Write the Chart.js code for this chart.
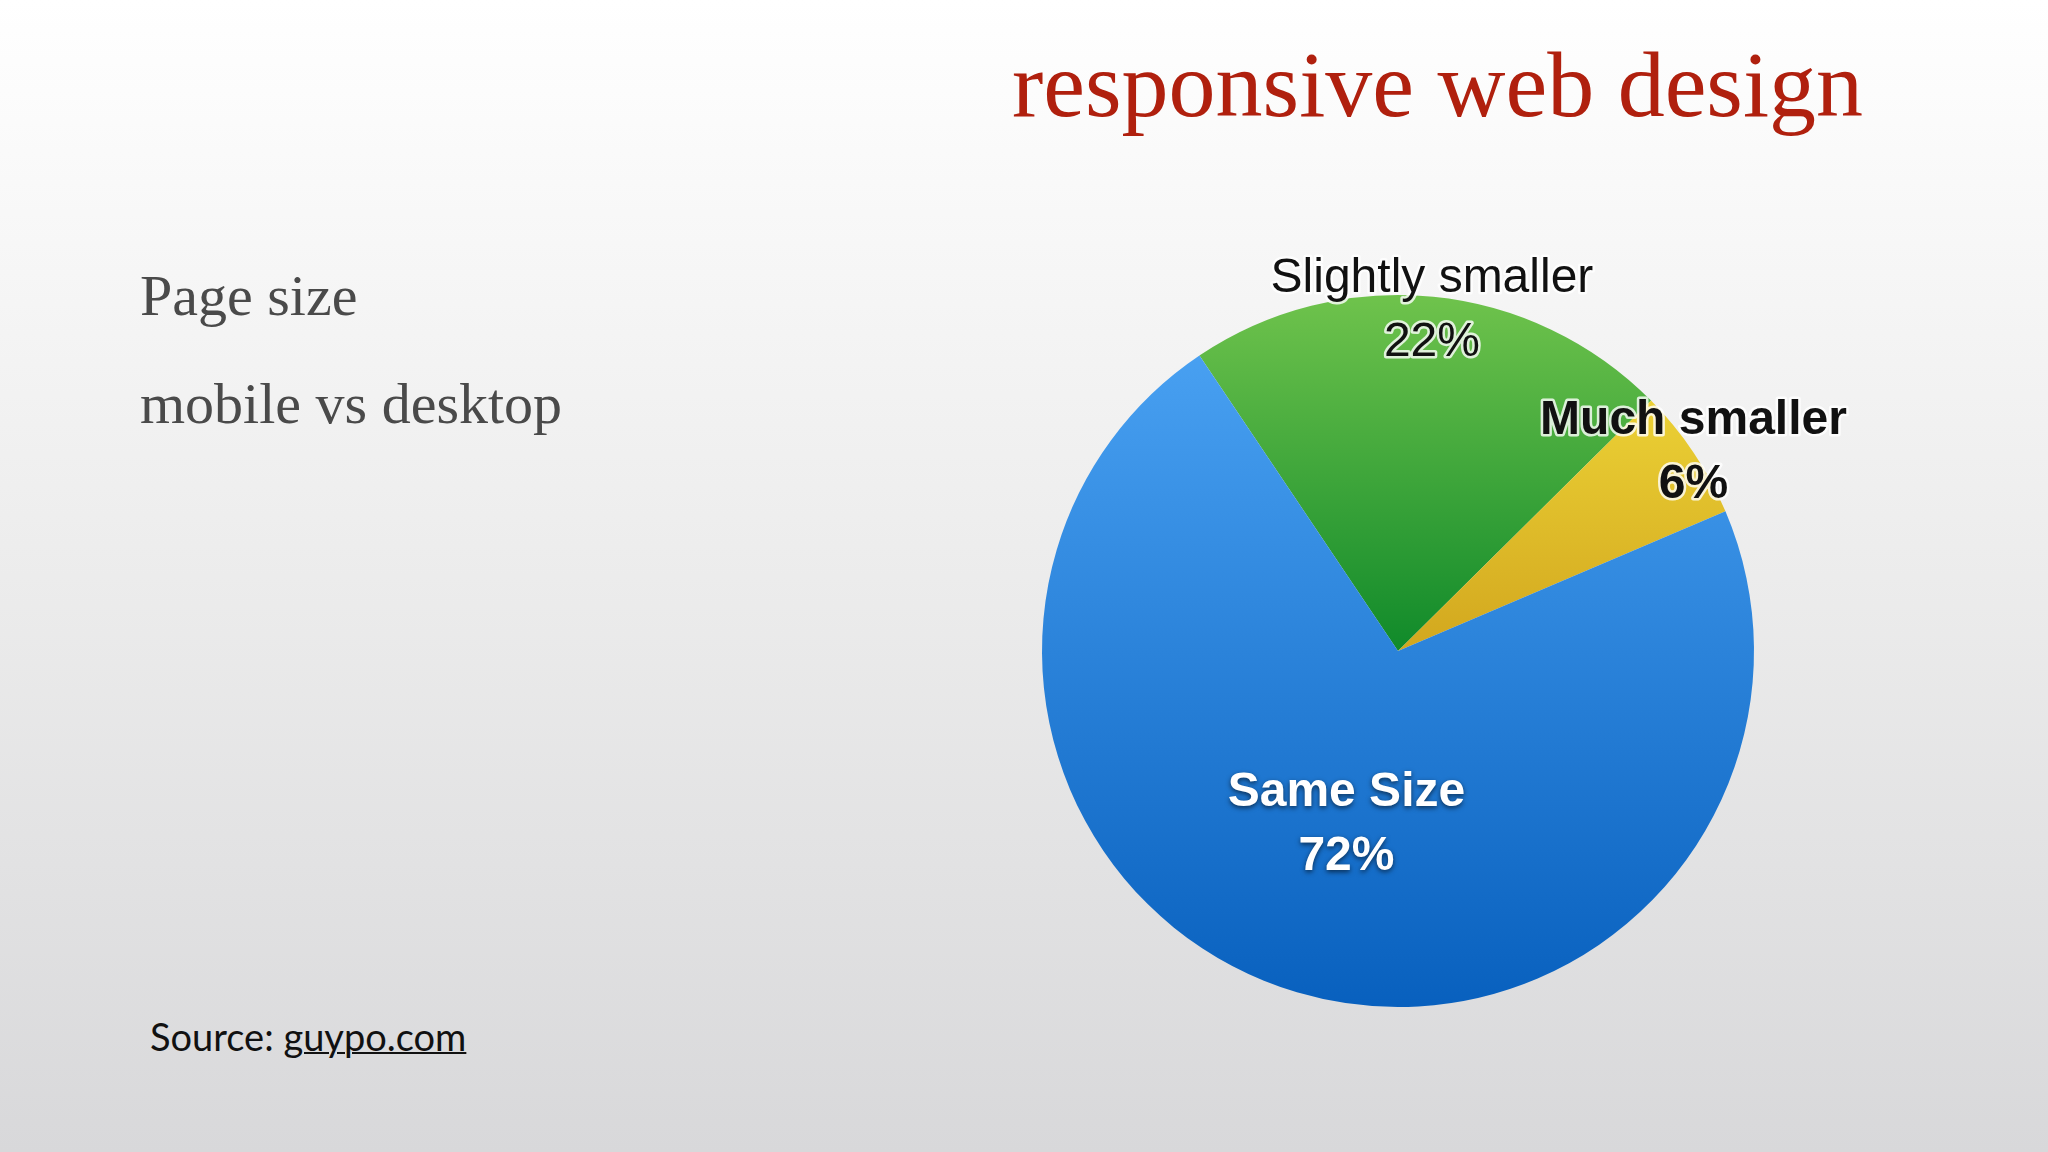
<!DOCTYPE html>
<html><head><meta charset="utf-8">
<script src="https://cdn.jsdelivr.net/npm/chart.js@4"></script>
<style>
html,body{margin:0;padding:0;width:2048px;height:1152px;overflow:hidden;}
body{background:linear-gradient(#ffffff 0%,#ececec 50%,#d8d8da 100%);position:relative;}
#title{position:absolute;left:1012px;top:30px;font-family:"Liberation Serif","DejaVu Serif",serif;font-size:94px;color:#b0200e;white-space:nowrap;}
.sub{position:absolute;left:140px;font-family:"Liberation Serif",serif;font-size:58px;color:#4a4a4a;white-space:nowrap;}
#src{position:absolute;left:150px;top:1013px;font-family:Lato,"Open Sans",sans-serif;font-size:38px;color:#111;}
#src u{text-decoration-thickness:2px;}
#box{position:absolute;left:898px;top:151px;width:1000px;height:1000px;}
</style></head><body>
<div id="title">responsive web design</div>
<div class="sub" style="top:262px">Page size</div>
<div class="sub" style="top:370px">mobile vs desktop</div>
<div id="src">Source: <u>guypo.com</u></div>
<div id="box"><canvas id="c"></canvas></div>
<script>
const categories = ["Slightly smaller", "Much smaller", "Same Size"];
const values = [22, 6, 72];
const gradTop = ["#6fc34c", "#f6e23f", "#4ea6f6"];
const gradBot = ["#108a2a", "#d2a71e", "#0860be"];
const labelFonts = ["normal 48px 'Liberation Sans', Arial, sans-serif", "bold 48px 'Liberation Sans', Arial, sans-serif", "bold 48px 'Liberation Sans', Arial, sans-serif"];
const labelColors = ["#111", "#111", "#fff"];
const labelDist = [0.96, 1.0, 0.51];

function bg(ctx){
  const ch = ctx.chart, a = ch.chartArea;
  if(!a) return gradTop[ctx.dataIndex];
  const i = ctx.dataIndex;
  const cx=(a.left+a.right)/2, cy=(a.top+a.bottom)/2, r=Math.min(a.right-a.left,a.bottom-a.top)/2;
  let g;
  if(i===2) g = ch.ctx.createLinearGradient(0,cy-r,0,cy+r);
  else g = ch.ctx.createLinearGradient(0,cy-r,0,cy);
  g.addColorStop(0,gradTop[i]); g.addColorStop(1,gradBot[i]);
  return g;
}

const labelPlugin = {
  id:'lbl',
  afterDatasetsDraw(chart){
    const ctx = chart.ctx, meta = chart.getDatasetMeta(0);
    meta.data.forEach((arc,i)=>{
      const p = arc.getProps(['x','y','startAngle','endAngle','outerRadius'],true);
      const m = (p.startAngle+p.endAngle)/2, d = p.outerRadius*labelDist[i];
      const x = p.x+Math.cos(m)*d, y = p.y+Math.sin(m)*d;
      ctx.save();
      ctx.font = labelFonts[i]; ctx.textAlign='center'; ctx.textBaseline='middle';
      const lines=[categories[i], values[i]+'%'];
      lines.forEach((t,k)=>{
        const yy = y + (k-0.5)*64;
        if(i===2){ctx.shadowColor='rgba(0,0,0,0.6)';ctx.shadowBlur=5;ctx.shadowOffsetY=2;}
        else {ctx.lineWidth=5;ctx.strokeStyle='rgba(255,255,255,0.8)';ctx.lineJoin='round';ctx.strokeText(t,x,yy);}
        ctx.fillStyle=labelColors[i]; ctx.fillText(t,x,yy);
      });
      ctx.restore();
    });
  }
};

new Chart(document.getElementById('c'),{
  type:'pie',
  data:{labels:categories,datasets:[{data:values,backgroundColor:bg,borderWidth:0}]},
  options:{responsive:true,maintainAspectRatio:false,animation:false,rotation:-33.9,
    layout:{padding:144},
    plugins:{legend:{display:false},tooltip:{enabled:false}}},
  plugins:[labelPlugin]
});
</script>
</body></html>
